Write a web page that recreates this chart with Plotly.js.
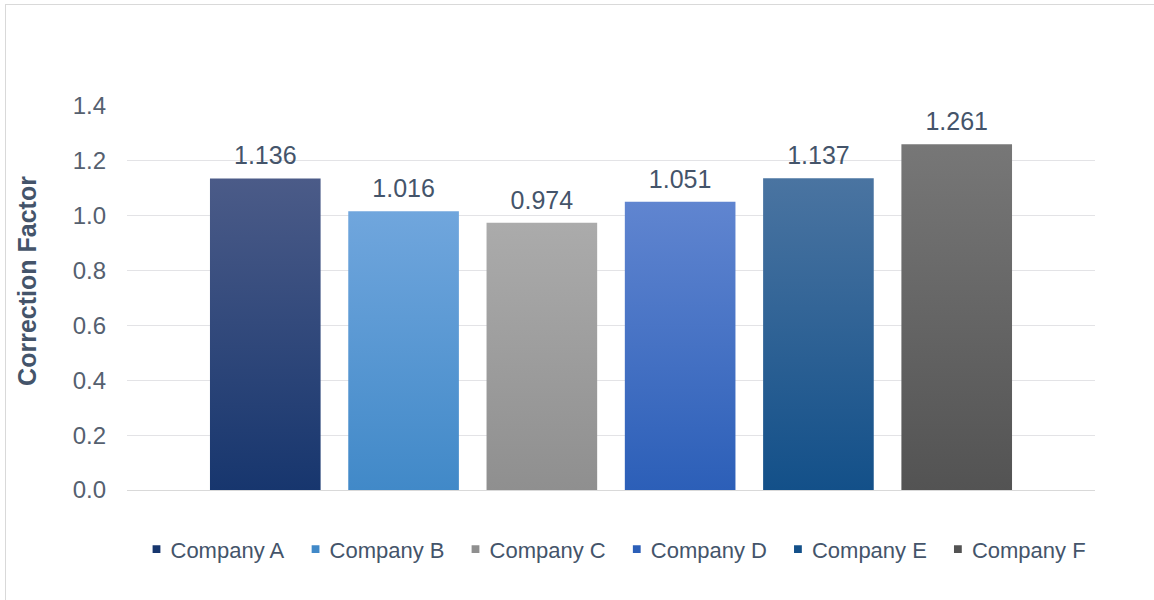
<!DOCTYPE html>
<html>
<head>
<meta charset="utf-8">
<script src="https://cdn.plot.ly/plotly-3.0.1.min.js"></script>
<style>
  html, body { margin: 0; padding: 0; background: #ffffff; overflow: hidden; }
  #frame { position: absolute; left: 5px; top: 4px; width: 1160px; height: 610px;
           border: 1px solid #d9d9d9; background: #ffffff; }
  #chart { position: absolute; left: 0; top: 0; width: 1148px; height: 595px; }
</style>
</head>
<body>
<div id="frame"><div id="chart"></div></div>
<script>
// ---- data ----
const companies = ["Company A", "Company B", "Company C", "Company D", "Company E", "Company F"];
const correctionFactors = [1.136, 1.016, 0.974, 1.051, 1.137, 1.261];
const valueLabels = ["1.136", "1.016", "0.974", "1.051", "1.137", "1.261"];
const yTickValues = [0, 0.2, 0.4, 0.6, 0.8, 1.0, 1.2, 1.4];
const yTickLabels = ["0.0", "0.2", "0.4", "0.6", "0.8", "1.0", "1.2", "1.4"];

// ---- styles ----
const topColors = ["#4b5b88", "#70a6dd", "#ababab", "#6085d0", "#4a74a1", "#777777"];
const bottomColors = ["#17366e", "#4189c8", "#8f8f8f", "#2c5fb8", "#135089", "#535353"];
const textColor = "#44546a";
const fontFamily = "'Liberation Sans', Arial, sans-serif";

const traces = companies.map((name, i) => ({
  type: "bar",
  name: name,
  x: [name],
  y: [correctionFactors[i]],
  text: [valueLabels[i]],
  textposition: "outside",
  cliponaxis: false,
  textfont: { family: fontFamily, size: 25, color: textColor },
  marker: { color: bottomColors[i], line: { width: 0 } },
  hoverinfo: "x+y"
}));

const layout = {
  width: 1148,
  height: 595,
  paper_bgcolor: "rgba(0,0,0,0)",
  plot_bgcolor: "rgba(0,0,0,0)",
  margin: { l: 121, r: 59, t: 101, b: 110 },
  barmode: "overlay",
  bargap: 0.2,
  showlegend: true,
  font: { family: fontFamily, color: textColor },
  xaxis: {
    type: "category",
    categoryorder: "array",
    categoryarray: companies,
    range: [-1.0, 6.0],
    showticklabels: false,
    showgrid: false,
    zeroline: false,
    showline: false,
    ticks: ""
  },
  yaxis: {
    range: [0, 1.4],
    tickvals: yTickValues,
    ticktext: yTickLabels,
    tickfont: { family: fontFamily, size: 24, color: "#55606f" },
    ticklabelstandoff: 20,
    showgrid: true,
    gridcolor: "#e3e3e6",
    gridwidth: 1,
    zeroline: true,
    zerolinecolor: "#d9d9d9",
    zerolinewidth: 1,
    showline: false,
    ticks: "",
    ticklen: 0,
    automargin: false,
    title: {
      text: "Correction Factor",
      font: { family: fontFamily, size: 25, color: "#44546a", weight: "bold" },
      standoff: 28
    }
  },
  legend: {
    orientation: "h",
    x: 0.5,
    xanchor: "center",
    y: -0.1,
    yanchor: "top",
    font: { family: fontFamily, size: 22, color: textColor },
    itemwidth: 30,
    traceorder: "normal"
  }
};

Plotly.newPlot("chart", traces, layout, { displayModeBar: false, staticPlot: true }).then(gd => {
  // apply vertical gradients to the bars drawn by Plotly
  const svg = gd.querySelector("svg.main-svg");
  const ns = "http://www.w3.org/2000/svg";
  let defs = svg.querySelector("defs");
  if (!defs) { defs = document.createElementNS(ns, "defs"); svg.insertBefore(defs, svg.firstChild); }
  companies.forEach((name, i) => {
    const g = document.createElementNS(ns, "linearGradient");
    g.setAttribute("id", "barGrad" + i);
    g.setAttribute("x1", "0"); g.setAttribute("y1", "0");
    g.setAttribute("x2", "0"); g.setAttribute("y2", "1");
    const s1 = document.createElementNS(ns, "stop");
    s1.setAttribute("offset", "0"); s1.setAttribute("stop-color", topColors[i]);
    const s2 = document.createElementNS(ns, "stop");
    s2.setAttribute("offset", "1"); s2.setAttribute("stop-color", bottomColors[i]);
    g.appendChild(s1); g.appendChild(s2);
    defs.appendChild(g);
  });
  gd.querySelectorAll(".barlayer .trace").forEach((t, i) => {
    t.querySelectorAll(".point path").forEach(p => {
      p.style.fill = "url(#barGrad" + i + ")";
    });
    // lift the value labels a little, as in the reference
    t.querySelectorAll("text").forEach(tx => {
      const tr = tx.getAttribute("transform") || "";
      tx.setAttribute("transform", "translate(0,-6) " + tr);
    });
  });
  // smaller legend swatches closer to the text, like the reference
  gd.querySelectorAll(".legend .legendpoints path").forEach(p => {
    const tr = p.getAttribute("transform") || "";
    p.setAttribute("transform", tr + " translate(6,0) scale(0.65)");
  });
  // shift the y-axis title upward as in the reference
  const yt = gd.querySelector(".g-ytitle");
  if (yt) yt.setAttribute("transform", "translate(0,-17)");
});
</script>
</body>
</html>
